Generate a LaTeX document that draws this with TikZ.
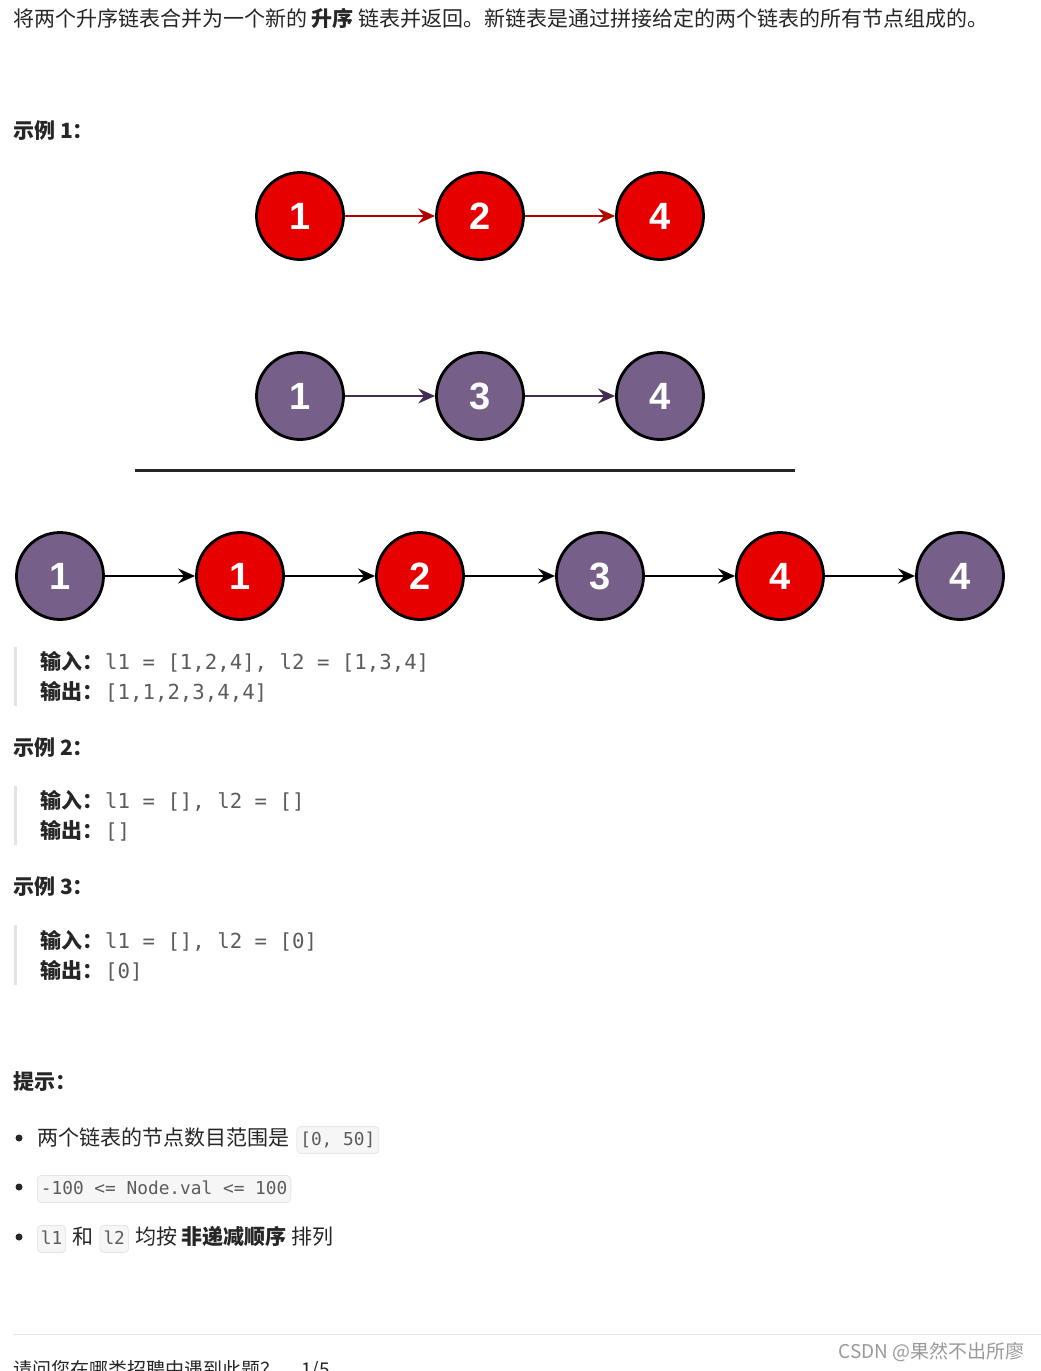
\documentclass[tikz,border=0pt]{standalone}
\usepackage{fontspec}
\setmainfont{Noto Sans CJK SC}
\setmonofont{DejaVu Sans Mono}
\newfontfamily\numfont{Liberation Sans}
\usetikzlibrary{arrows.meta}
\definecolor{nodered}{HTML}{E60000}
\definecolor{nodepurple}{HTML}{76608A}
\definecolor{arrowred}{HTML}{B20000}
\definecolor{arrowpurple}{HTML}{432D57}
\definecolor{bodytext}{HTML}{262626}
\definecolor{codegray}{HTML}{5C5C5C}
\definecolor{quotebar}{HTML}{E3E3E3}
\definecolor{codebg}{HTML}{F6F6F6}
\definecolor{codeborder}{HTML}{E6E6E6}
\definecolor{footgray}{HTML}{9A9A9A}
\begin{document}
\begin{tikzpicture}[x=1pt,y=-1pt,
  listnode/.style={circle, draw=black, line width=2.8pt, minimum size=87pt, inner sep=0pt,
    text=white, font=\numfont\bfseries\fontsize{38}{38}\selectfont},
  rednode/.style={listnode, fill=nodered},
  purplenode/.style={listnode, fill=nodepurple},
  link/.style={line width=2.4pt, -{Stealth[length=17pt,width=15pt,inset=6pt]}},
  body/.style={anchor=base west, inner sep=0pt, text=bodytext, font=\fontsize{21}{24}\selectfont},
  heading/.style={anchor=base west, inner sep=0pt, text=bodytext, font=\bfseries\fontsize{21}{24}\selectfont},
  code/.style={anchor=base west, inner sep=0pt, text=codegray, font=\ttfamily\fontsize{20.7}{24}\selectfont},
  inlinecode/.style={anchor=base west, fill=codebg, draw=codeborder, line width=0.8pt,
    rounded corners=4pt, inner xsep=3.5pt, inner ysep=4.5pt, text height=14pt, text depth=4pt,
    text=codegray, font=\ttfamily\fontsize{17.8}{20}\selectfont},
  quote/.style={quotebar, line width=3pt},
  bullet/.style={circle, fill=black!85, inner sep=0pt, minimum size=7pt},
  foot/.style={inner sep=0pt, text=footgray, font=\fontsize{19}{22}\selectfont}
]
\useasboundingbox (0,0) rectangle (1041,1371);
\fill[white] (0,0) rectangle (1041,1371);

% intro
\node[body] (intro) at (13,26) {将两个升序链表合并为一个新的 \textbf{升序} 链表并返回。新链表是通过拼接给定的两个链表的所有节点组成的。};

% example 1
\node[heading] (ex1) at (13,138) {示例 1：};

\node[rednode] (a1) at (300,216) {1};
\node[rednode] (a2) at (480,216) {2};
\node[rednode] (a3) at (660,216) {4};
\draw[link, arrowred] (a1) -- (a2);
\draw[link, arrowred] (a2) -- (a3);

\node[purplenode] (b1) at (300,396) {1};
\node[purplenode] (b2) at (480,396) {3};
\node[purplenode] (b3) at (660,396) {4};
\draw[link, arrowpurple] (b1) -- (b2);
\draw[link, arrowpurple] (b2) -- (b3);

\draw[line width=3pt, black!85] (135,470) -- (795,470);

\node[purplenode] (c1) at (60,576) {1};
\node[rednode]    (c2) at (240,576) {1};
\node[rednode]    (c3) at (420,576) {2};
\node[purplenode] (c4) at (600,576) {3};
\node[rednode]    (c5) at (780,576) {4};
\node[purplenode] (c6) at (960,576) {4};
\draw[link, black] (c1) -- (c2);
\draw[link, black] (c2) -- (c3);
\draw[link, black] (c3) -- (c4);
\draw[link, black] (c4) -- (c5);
\draw[link, black] (c5) -- (c6);

\draw[quote] (15,647) -- (15,706);
\node[heading] (in1) at (40,669) {输入：};
\node[code] (in1c) at (105,669) {l1 = [1,2,4], l2 = [1,3,4]};
\node[heading] (out1) at (40,699) {输出：};
\node[code] (out1c) at (105,699) {[1,1,2,3,4,4]};

% example 2
\node[heading] (ex2) at (13,755) {示例 2：};
\draw[quote] (15,786) -- (15,845);
\node[heading] (in2) at (40,808) {输入：};
\node[code] (in2c) at (105,808) {l1 = [], l2 = []};
\node[heading] (out2) at (40,838) {输出：};
\node[code] (out2c) at (105,838) {[]};

% example 3
\node[heading] (ex3) at (13,894) {示例 3：};
\draw[quote] (15,925) -- (15,985);
\node[heading] (in3) at (40,948) {输入：};
\node[code] (in3c) at (105,948) {l1 = [], l2 = [0]};
\node[heading] (out3) at (40,978) {输出：};
\node[code] (out3c) at (105,978) {[0]};

% hints
\node[heading] (hint) at (13,1089) {提示：};

\node[bullet] (d1) at (19,1138) {};
\node[body] (t1) at (37,1145) {两个链表的节点数目范围是};
\node[inlinecode] (t1c) at ([xshift=7pt]t1.base east) {[0, 50]};

\node[bullet] (d2) at (19,1187) {};
\node[inlinecode] (t2c) at (37,1194) {-100 <= Node.val <= 100};

\node[bullet] (d3) at (19,1237) {};
\node[inlinecode] (t3a) at (37,1244) {l1};
\node[body] (t3b) at ([xshift=6pt]t3a.base east) {和};
\node[inlinecode] (t3c) at ([xshift=6pt]t3b.base east) {l2};
\node[body] (t3d) at ([xshift=6pt]t3c.base east) {均按 \textbf{非递减顺序} 排列};

% footer
\draw[codeborder, line width=1pt] (13,1334) -- (1041,1334);
\node[foot, anchor=base east] (csdn) at (1025,1358) {CSDN @果然不出所廖};
\node[foot, anchor=base west, text=bodytext] (ask) at (13,1376) {请问您在哪类招聘中遇到此题？\hspace{22pt}1/5};
\end{tikzpicture}
\end{document}
